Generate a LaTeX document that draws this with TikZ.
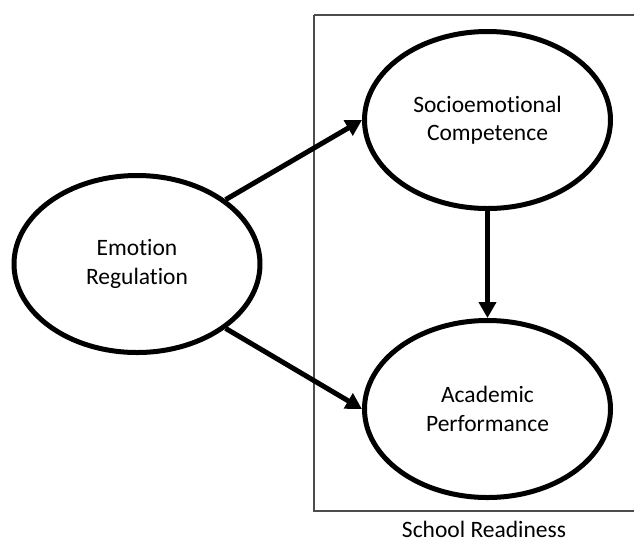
\documentclass[tikz,border=0pt]{standalone}
\usepackage{fontspec}
\setmainfont{Carlito}[RawFeature=-liga]
\usetikzlibrary{shapes.geometric,arrows.meta}
\begin{document}
\begin{tikzpicture}[x=1pt,y=-1pt,
  latent/.style={draw=black, line width=5pt, ellipse, minimum width=246pt, minimum height=177pt, inner sep=0pt, align=center, font=\fontsize{23.5}{28.5}\selectfont},
  path/.style={line width=5pt, -{Triangle[length=16pt,width=17pt]}},
  frame/.style={draw=black!70, line width=1.2pt},
  lbl/.style={font=\fontsize{23.5}{28.5}\selectfont, inner sep=0pt, text depth=0pt}]
\useasboundingbox (0,0) rectangle (634,542);
\draw[frame] (314,15) -- (650,15) (314,15) -- (314,511) -- (650,511);
\node[latent] (er) at (137,264) {Emotion\\Regulation};
\node[latent] (se) at (487.5,120) {Socioemotional\\Competence};
\node[latent] (ap) at (487.5,409) {Academic\\Performance};
\node[lbl, anchor=base] (sr) at (484,537) {School Readiness};
\draw[path] (er.36) -- (se.180);
\draw[path] (er.-36) -- (ap.180);
\draw[path] (se.south) -- (ap.north);
\end{tikzpicture}
\end{document}
